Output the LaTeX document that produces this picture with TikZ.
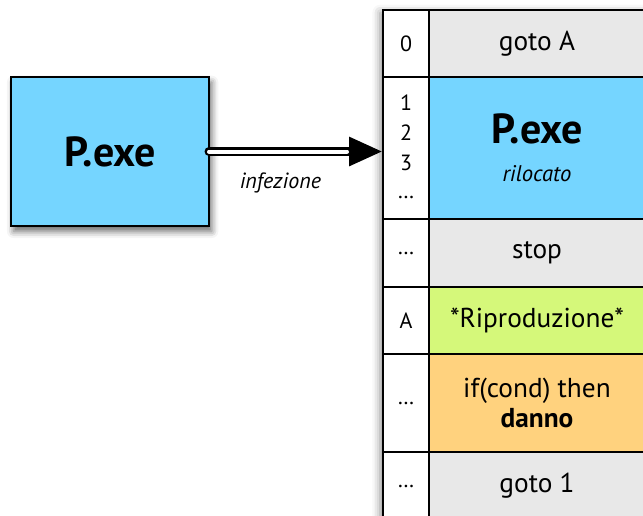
\documentclass[tikz,border=0pt]{standalone}
\usepackage{fontspec}
\setmainfont{PT Sans}
\usetikzlibrary{positioning,arrows.meta,shadows.blur,backgrounds}

\newlength\pxu
\setlength\pxu{0.75pt}
\definecolor{exeblue}{HTML}{75D5FF}
\definecolor{codegray}{HTML}{E8E8E8}
\definecolor{ripgreen}{HTML}{D5F87A}
\definecolor{dmgorange}{HTML}{FFD27E}

\begin{document}
\begin{tikzpicture}[x=\pxu, y=-\pxu, node distance=0pt,
    cell/.style={rectangle, draw, line width=2\pxu, outer sep=0pt, inner sep=0pt,
      minimum width=216\pxu, align=center, font=\fontsize{20.5}{22.5}\selectfont},
    numcell/.style={cell, fill=white, minimum width=46\pxu, font=\fontsize{16.5}{22.5}\selectfont}]
    \useasboundingbox (0,0) rectangle (643,515);

    % source program
    \node[cell, fill=exeblue, minimum width=198\pxu, minimum height=149\pxu,
      blur shadow={shadow xshift=2pt, shadow yshift=-4pt, shadow blur radius=5pt, shadow opacity=60},
      font=\bfseries\fontsize{31.5}{34}\selectfont] (src) at (110,151.5) {P.exe};

    % infected file
    \node[cell, fill=codegray, minimum height=67\pxu, anchor=north west] (c0) at (429,10) {goto A};
    \node[cell, fill=exeblue, minimum height=142\pxu, below=of c0] (c1)
      {{\bfseries\fontsize{31.5}{34}\selectfont P.exe}\\[6pt]{\itshape\fontsize{17}{20}\selectfont rilocato}};
    \node[cell, fill=codegray, minimum height=68\pxu, below=of c1] (c2) {stop};
    \node[cell, fill=ripgreen, minimum height=67\pxu, below=of c2] (c3) {*Riproduzione*};
    \node[cell, fill=dmgorange, minimum height=98\pxu, below=of c3] (c4) {if(cond) then\\\textbf{danno}};
    \node[cell, fill=codegray, minimum height=68\pxu, below=of c4] (c5) {goto 1};

    \node[numcell, left=of c0, minimum height=67\pxu] (n0) {0};
    \node[numcell, left=of c1, minimum height=142\pxu] (n1) {1\\2\\3\\\raisebox{2pt}{\dots}};
    \node[numcell, left=of c2, minimum height=68\pxu] (n2) {\dots};
    \node[numcell, left=of c3, minimum height=67\pxu] (n3) {A};
    \node[numcell, left=of c4, minimum height=98\pxu] (n4) {\dots};
    \node[numcell, left=of c5, minimum height=68\pxu] (n5) {\dots};

    \begin{scope}[on background layer]
      \fill[white, blur shadow={shadow xshift=-2pt, shadow yshift=-2pt, shadow blur radius=6pt, shadow opacity=45}]
        (n0.north west) rectangle (c5.south east);
    \end{scope}

    % infection arrow
    \coordinate (hit) at (src.east -| n1.west);
    \draw[line width=9\pxu, line cap=round, -{Triangle[length=25.5pt, width=20.25pt]}] (src.east) -- (hit);
    \draw[line width=4\pxu, white, line cap=round, shorten >=27pt] (src.east) -- (hit);
    \path (src.east) -- (hit) node[pos=0.41, below=17\pxu, font=\itshape\fontsize{16.5}{20}\selectfont] (lbl) {infezione};
\end{tikzpicture}
\end{document}
